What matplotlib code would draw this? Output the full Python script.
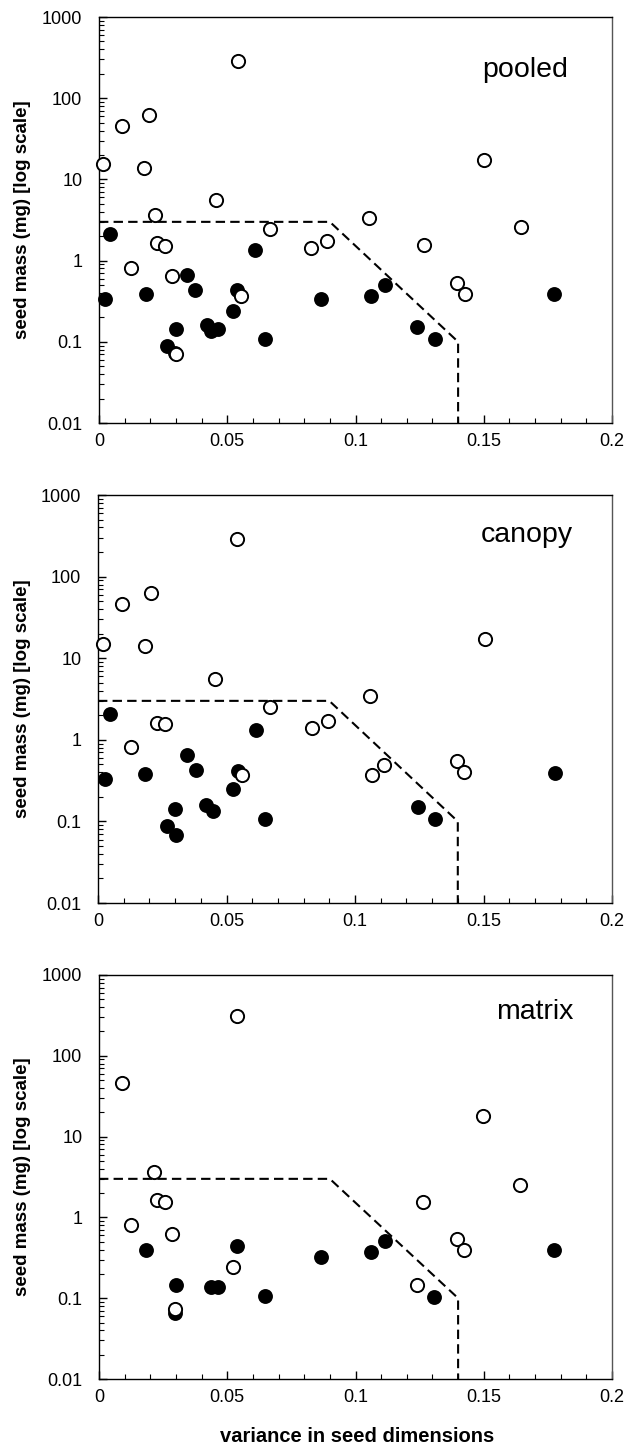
import matplotlib
matplotlib.use("Agg")
import matplotlib.pyplot as plt
import numpy as np
from matplotlib.ticker import FixedLocator, MultipleLocator, LogLocator, NullFormatter

plt.rcParams['font.family'] = ['Liberation Sans', 'DejaVu Sans']

# ---- data ----
# pooled
pooled_open_x = [0.054, 0.0195, 0.0091, 0.0016, 0.0174, 0.150, 0.0455, 0.0217, 0.0668, 0.1053,
                 0.1645, 0.0228, 0.0259, 0.0827, 0.0888, 0.1266, 0.0125, 0.0283, 0.0553, 0.1396,
                 0.1425, 0.0299]
pooled_open_y = [290, 62, 46, 15.6, 14, 17.1, 5.5, 3.6, 2.45, 3.3,
                 2.57, 1.65, 1.50, 1.42, 1.75, 1.56, 0.82, 0.64, 0.37, 0.53,
                 0.39, 0.0705]
pooled_fill_x = [0.0044, 0.0022, 0.0182, 0.0345, 0.0373, 0.0607, 0.0537, 0.0524, 0.042, 0.0436,
                 0.0464, 0.0299, 0.0264, 0.0296, 0.0649, 0.0867, 0.1061, 0.1115, 0.1239, 0.1308,
                 0.1775]
pooled_fill_y = [2.11, 0.338, 0.393, 0.673, 0.431, 1.35, 0.435, 0.238, 0.162, 0.136,
                 0.143, 0.143, 0.0877, 0.073, 0.107, 0.338, 0.371, 0.498, 0.151, 0.107,
                 0.393]

# canopy
canopy_open_x = [0.0539, 0.0205, 0.0095, 0.0019, 0.0184, 0.1504, 0.0456, 0.067, 0.106, 0.0231,
                 0.0259, 0.0834, 0.0895, 0.0128, 0.0561, 0.1067, 0.1114, 0.1395, 0.1424]
canopy_open_y = [292, 63, 46.7, 15, 14.3, 17.4, 5.6, 2.53, 3.4, 1.61,
                 1.54, 1.39, 1.71, 0.805, 0.366, 0.366, 0.49, 0.543, 0.405]
canopy_fill_x = [0.0047, 0.0026, 0.0184, 0.0347, 0.0382, 0.0614, 0.0545, 0.0526, 0.0422, 0.0446,
                 0.0301, 0.0267, 0.0302, 0.0648, 0.1245, 0.1313, 0.1779]
canopy_fill_y = [2.06, 0.33, 0.383, 0.66, 0.425, 1.32, 0.42, 0.247, 0.158, 0.136,
                 0.143, 0.087, 0.0687, 0.106, 0.15, 0.106, 0.387]

# matrix
matrix_open_x = [0.0539, 0.0091, 0.1499, 0.0216, 0.1643, 0.0227, 0.0258, 0.1265, 0.0125, 0.0283,
                 0.1395, 0.1423, 0.0523, 0.1238, 0.0297]
matrix_open_y = [311, 46, 17.8, 3.6, 2.52, 1.63, 1.55, 1.54, 0.805, 0.62,
                 0.54, 0.40, 0.241, 0.147, 0.0728]
matrix_fill_x = [0.0182, 0.0539, 0.0299, 0.0435, 0.0464, 0.0297, 0.0648, 0.0866, 0.106, 0.1114,
                 0.1306, 0.1773]
matrix_fill_y = [0.395, 0.438, 0.147, 0.139, 0.139, 0.065, 0.107, 0.327, 0.377, 0.51,
                 0.1026, 0.395]

# dashed boundary
bound_x = [0, 0.09, 0.14, 0.14]
bound_y = [3, 3, 0.1, 0.01]

panels = [
    ("pooled", pooled_open_x, pooled_open_y, pooled_fill_x, pooled_fill_y),
    ("canopy", canopy_open_x, canopy_open_y, canopy_fill_x, canopy_fill_y),
    ("matrix", matrix_open_x, matrix_open_y, matrix_fill_x, matrix_fill_y),
]

fig = plt.figure(figsize=(6.30, 14.54), dpi=100)

W, H = 630.0, 1454.0
boxes = [(99, 17, 612, 423), (98, 495, 612, 903), (99, 975, 612, 1379)]
name_pos = [(525, 70), (527, 535), (535, 1012)]

for i, (name, ox, oy, fx, fy) in enumerate(panels):
    l, t, r, b = boxes[i]
    ax = fig.add_axes([l / W, 1 - b / H, (r - l) / W, (b - t) / H])
    ax.set_yscale('log')
    ax.set_xlim(0, 0.2)
    ax.set_ylim(0.01, 1000)

    ax.plot(bound_x, bound_y, color='black', lw=1.5, dashes=(4.5, 2.5), zorder=2)
    ax.plot(fx, fy, 'o', ms=9.5, mfc='black', mec='black', mew=1.2, ls='none', zorder=3, clip_on=False)
    ax.plot(ox, oy, 'o', ms=9.5, mfc='white', mec='black', mew=1.4, ls='none', zorder=4, clip_on=False)

    nx, ny = name_pos[i]
    fig.text(nx / W, 1 - ny / H, name, ha='center', va='center', fontsize=20.5)

    ax.xaxis.set_major_locator(FixedLocator([0, 0.05, 0.1, 0.15, 0.2]))
    ax.set_xticklabels(['0', '0.05', '0.1', '0.15', '0.2'])
    ax.xaxis.set_minor_locator(MultipleLocator(0.01))
    ax.yaxis.set_major_locator(FixedLocator([0.01, 0.1, 1, 10, 100, 1000]))
    ax.set_yticklabels(['0.01', '0.1', '1', '10', '100', '1000'])
    ax.yaxis.set_minor_locator(LogLocator(base=10, subs=np.arange(2, 10)))
    ax.yaxis.set_minor_formatter(NullFormatter())

    ax.tick_params(axis='both', which='major', direction='in', length=6, width=1,
                   labelsize=13, top=False, right=False)
    ax.tick_params(axis='both', which='minor', direction='in', length=3.5, width=0.8,
                   top=False, right=False)
    ax.tick_params(axis='y', which='major', pad=12)
    ax.tick_params(axis='x', which='major', pad=7)

    for sp in ax.spines.values():
        sp.set_linewidth(1)
    ax.spines['right'].set_color('#555555')

    fig.text(22.5 / W, 1 - (t + b) / 2 / H, 'seed mass (mg) [log scale]', rotation=90,
             ha='center', va='center', fontsize=13.5, fontweight='bold')

fig.text(357 / W, 1 - 1437 / H, 'variance in seed dimensions', ha='center', va='center',
         fontsize=14.5, fontweight='bold')

fig.savefig('out.png', dpi=100)
